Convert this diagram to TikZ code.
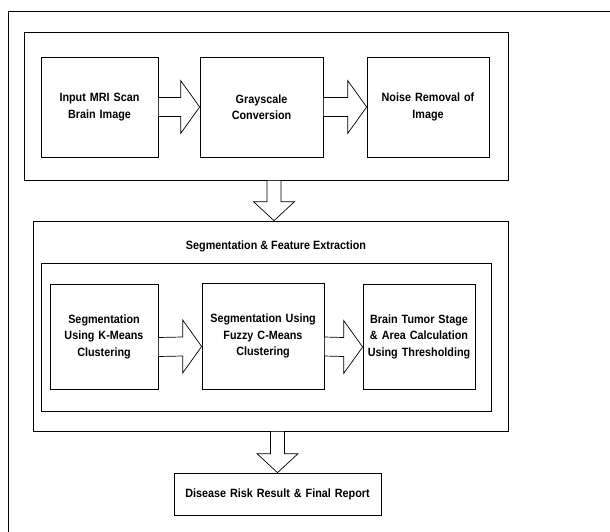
\documentclass[tikz,border=0pt]{standalone}
\usepackage{fontspec}
\setmainfont{Liberation Sans}[FakeStretch=0.9]
\usetikzlibrary{calc}
\tikzset{
  box/.style={draw, line width=0.7pt, rectangle, inner sep=2pt, align=center,
              font=\fontsize{12}{16.5}\selectfont\bfseries},
  frame/.style={draw, line width=0.7pt, rectangle, inner sep=0pt},
  barrow/.style={draw, fill=white, line width=0.7pt, line join=miter},
  lbl/.style={font=\fontsize{12}{16}\selectfont\bfseries, inner sep=0pt}
}
\newcommand{\harr}[3]{%
  \draw[barrow] ($(#1.east)+(0,#3-9.5)$) -- ($(#2.west)+(-19,#3-9.5)$)
    -- ($(#2.west)+(-19,#3-26.5)$) -- ($(#2.west)+(0,#3)$)
    -- ($(#2.west)+(-19,#3+26.5)$) -- ($(#2.west)+(-19,#3+9.5)$)
    -- ($(#1.east)+(0,#3+9.5)$) -- cycle;}
\newcommand{\varr}[3]{%
  \coordinate (vt#1) at ($(#2.north)+(#3,0)$);
  \coordinate (vs#1) at (vt#1 |- #1.south);
  \draw[barrow] ($(vs#1)+(-7,0)$) -- ($(vt#1)+(-7,-19)$) -- ($(vt#1)+(-20.5,-19)$)
    -- (vt#1) -- ($(vt#1)+(20.5,-19)$) -- ($(vt#1)+(7,-19)$) -- ($(vs#1)+(7,0)$) -- cycle;}
\begin{document}
\begin{tikzpicture}[x=1pt,y=-1pt]
\useasboundingbox (0,0) rectangle (610,531);
\fill[white] (0,0) rectangle (610,531);
\clip (0,0) rectangle (610,531);
% outer frame (extends beyond the picture)
\draw[line width=0.7pt] (8,11) rectangle (625,545);
% top container
\node[frame, minimum width=484pt, minimum height=148pt] (box1) at (266,106) {};
\node[box, minimum width=117pt, minimum height=100pt, text width=110pt] (in) at (99.5,107) {Input MRI Scan\\Brain Image};
\node[box, minimum width=123pt, minimum height=100pt, text width=116pt] (gray) at (261.5,107) {Grayscale\\Conversion};
\node[box, minimum width=122pt, minimum height=100pt, text width=116pt] (noise) at (428,107) {Noise Removal of\\Image};
\harr{in}{gray}{0}
\harr{gray}{noise}{0}
% segmentation container
\node[frame, minimum width=475pt, minimum height=210pt] (box2) at (270.5,326) {};
\node[lbl] (title) at (276,246) {Segmentation \& Feature Extraction};
\node[frame, minimum width=450pt, minimum height=148pt] (inner) at (266,337) {};
\node[box, minimum width=108pt, minimum height=105pt, text width=104pt] (km) at (104,336.5) {Segmentation\\Using K-Means\\Clustering};
\node[box, minimum width=122pt, minimum height=106pt, text width=118pt] (fz) at (263,336) {Segmentation Using\\Fuzzy C-Means\\Clustering};
\node[box, minimum width=110pt, minimum height=105pt, text width=108pt] (bt) at (419,336.5) {Brain Tumor Stage\\\& Area Calculation\\Using Thresholding};
\harr{km}{fz}{10.5}
\harr{fz}{bt}{10.5}
% final
\node[box, minimum width=207pt, minimum height=42pt, text width=203pt] (final) at (277.5,494) {Disease Risk Result \& Final Report};
\varr{box1}{box2}{3.5}
\varr{box2}{final}{0}
\end{tikzpicture}
\end{document}
